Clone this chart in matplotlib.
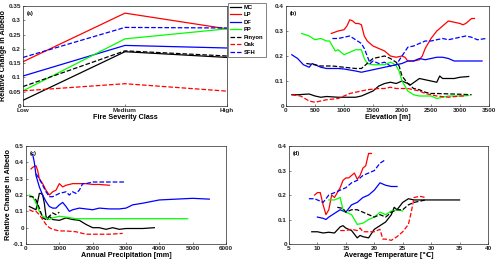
import numpy as np
import matplotlib
matplotlib.use('Agg')
import matplotlib.pyplot as plt

plt.rcParams['font.family'] = ['Liberation Sans', 'DejaVu Sans']
plt.rcParams['font.weight'] = 'bold'

nomes = ['MC', 'LP', 'DF', 'PP', 'Pinyon', 'Oak', 'SFH']
cores = ['k', 'r', 'b', 'lime', 'k', 'r', 'b']
estilos = ['-', '-', '-', '-', '--', '--', '--']

# (a) classe de severidade
classes = ['Low', 'Medium', 'High']
sev = {
    'MC': [0.02, 0.19, 0.17],
    'LP': [0.155, 0.325, 0.27],
    'DF': [0.105, 0.212, 0.203],
    'PP': [0.053, 0.235, 0.27],
    'Pinyon': [0.068, 0.193, 0.175],
    'Oak': [0.053, 0.078, 0.052],
    'SFH': [0.17, 0.275, 0.273],
}

# (b) elevacao
elev_mc_x = [100, 200, 400, 500, 600, 700, 900, 1000, 1200, 1300, 1400, 1500, 1600, 1700, 1800, 1900, 2000, 2100, 2150, 2300, 2400, 2500, 2600, 2650, 2700, 2900, 3000, 3150]
elev_mc_y = [0.045, 0.045, 0.048, 0.04, 0.035, 0.038, 0.035, 0.035, 0.035, 0.04, 0.05, 0.06, 0.08, 0.09, 0.095, 0.09, 0.1, 0.09, 0.085, 0.11, 0.105, 0.1, 0.095, 0.12, 0.11, 0.11, 0.115, 0.118]
elev_lp_x = [780, 900, 1000, 1050, 1100, 1150, 1200, 1250, 1300, 1350, 1400, 1500, 1600, 1700, 1800, 1900, 2000, 2050, 2100, 2200, 2300, 2350, 2400, 2500, 2600, 2700, 2800, 2900, 3000, 3050, 3100, 3200, 3250]
elev_lp_y = [0.29, 0.30, 0.305, 0.32, 0.345, 0.34, 0.33, 0.33, 0.325, 0.28, 0.26, 0.24, 0.23, 0.22, 0.20, 0.195, 0.2, 0.195, 0.18, 0.18, 0.185, 0.2, 0.23, 0.27, 0.30, 0.32, 0.34, 0.335, 0.33, 0.325, 0.33, 0.35, 0.35]
elev_df_x = [100, 200, 300, 400, 450, 500, 600, 700, 900, 1000, 1200, 1300, 1400, 1500, 1600, 1700, 1800, 1900, 2000, 2100, 2200, 2300, 2400, 2500, 2600, 2700, 2800, 2900, 3000, 3200, 3380]
elev_df_y = [0.205, 0.19, 0.165, 0.155, 0.17, 0.165, 0.155, 0.15, 0.15, 0.148, 0.14, 0.135, 0.14, 0.145, 0.15, 0.155, 0.16, 0.165, 0.17, 0.18, 0.18, 0.19, 0.185, 0.19, 0.195, 0.195, 0.19, 0.18, 0.18, 0.18, 0.18]
elev_pp_x = [270, 400, 500, 600, 700, 750, 800, 850, 900, 1000, 1100, 1200, 1300, 1350, 1400, 1500, 1600, 1700, 1800, 1850, 1900, 1950, 2000, 2100, 2200, 2300, 2400, 2500, 2600, 2700, 2800, 3000, 3150]
elev_pp_y = [0.29, 0.28, 0.265, 0.27, 0.26, 0.26, 0.24, 0.22, 0.225, 0.205, 0.215, 0.225, 0.225, 0.19, 0.17, 0.165, 0.165, 0.165, 0.175, 0.17, 0.16, 0.14, 0.1, 0.06, 0.045, 0.04, 0.04, 0.04, 0.03, 0.035, 0.04, 0.04, 0.042]
elev_pin_x = [350, 500, 600, 700, 800, 1000, 1200, 1300, 1400, 1500, 1600, 1700, 1800, 1900, 1950, 2000, 2100, 2200, 2300, 2400, 2500, 2600, 3000, 3200]
elev_pin_y = [0.17, 0.165, 0.16, 0.16, 0.16, 0.155, 0.15, 0.15, 0.17, 0.19, 0.195, 0.2, 0.19, 0.175, 0.16, 0.12, 0.09, 0.07, 0.065, 0.055, 0.05, 0.05, 0.047, 0.045]
elev_oak_x = [100, 250, 400, 500, 600, 700, 900, 1000, 1100, 1200, 1300, 1400, 1600, 1700, 1800, 1900, 2100, 2200, 2300, 2400, 2500, 2600, 2800, 3000, 3100]
elev_oak_y = [0.045, 0.04, 0.02, 0.015, 0.02, 0.025, 0.03, 0.04, 0.05, 0.055, 0.06, 0.065, 0.07, 0.07, 0.075, 0.07, 0.07, 0.065, 0.06, 0.05, 0.045, 0.04, 0.035, 0.04, 0.04]
elev_sfh_x = [800, 900, 1000, 1100, 1200, 1300, 1350, 1400, 1450, 1500, 1600, 1700, 1800, 1900, 2000, 2100, 2200, 2300, 2400, 2500, 2700, 2800, 2900, 3000, 3100, 3200, 3300, 3450]
elev_sfh_y = [0.27, 0.27, 0.275, 0.28, 0.265, 0.25, 0.23, 0.2, 0.17, 0.18, 0.17, 0.175, 0.16, 0.165, 0.2, 0.235, 0.24, 0.25, 0.26, 0.26, 0.27, 0.265, 0.27, 0.275, 0.28, 0.275, 0.265, 0.27]

# (c) precipitacao anual
prec_mc_x = [100, 200, 300, 350, 400, 450, 500, 550, 600, 650, 700, 800, 1000, 1200, 1400, 1600, 1800, 2000, 2200, 2400, 2600, 2800, 3000, 3500, 3850]
prec_mc_y = [0.13, 0.12, 0.11, 0.16, 0.21, 0.21, 0.2, 0.15, 0.07, 0.05, 0.07, 0.05, 0.045, 0.06, 0.05, 0.045, 0.02, 0.0, 0.0, -0.01, 0.0, -0.01, -0.005, -0.005, 0.0]
prec_lp_x = [150, 200, 300, 350, 400, 500, 600, 700, 800, 900, 1000, 1100, 1200, 1400, 1600, 1800, 2000, 2200, 2500]
prec_lp_y = [0.36, 0.37, 0.38, 0.35, 0.3, 0.27, 0.23, 0.2, 0.22, 0.23, 0.27, 0.25, 0.26, 0.27, 0.27, 0.27, 0.265, 0.265, 0.26]
prec_df_x = [200, 250, 300, 400, 500, 600, 700, 800, 900, 1000, 1100, 1200, 1300, 1400, 1600, 1800, 2000, 2200, 2500, 2800, 3000, 3200, 3500, 4000, 4500, 5000, 5500]
prec_df_y = [0.45, 0.4, 0.32, 0.25, 0.2, 0.16, 0.13, 0.12, 0.12, 0.14, 0.155, 0.13, 0.1, 0.11, 0.12, 0.115, 0.11, 0.12, 0.115, 0.115, 0.12, 0.14, 0.15, 0.17, 0.175, 0.18, 0.175]
prec_pp_x = [100, 200, 300, 400, 500, 600, 700, 800, 1000, 1200, 1500, 2000, 3000, 4000, 4850]
prec_pp_y = [0.2, 0.19, 0.15, 0.1, 0.07, 0.06, 0.05, 0.06, 0.07, 0.065, 0.055, 0.055, 0.055, 0.055, 0.055]
prec_pin_x = [100, 200, 300, 400, 500, 600, 700, 800, 900, 1000]
prec_pin_y = [0.19, 0.19, 0.17, 0.12, 0.06, 0.05, 0.07, 0.09, 0.08, 0.095]
prec_oak_x = [100, 200, 300, 400, 500, 600, 700, 800, 1000, 1200, 1500, 1800, 2000, 2500, 2900]
prec_oak_y = [0.11, 0.1, 0.1, 0.08, 0.05, 0.02, 0.0, -0.01, -0.02, -0.02, -0.025, -0.04, -0.04, -0.04, -0.035]
prec_sfh_x = [300, 400, 500, 600, 700, 800, 900, 1000, 1200, 1300, 1400, 1500, 1600, 1700, 1800, 2000, 2500, 3000]
prec_sfh_y = [0.33, 0.3, 0.26, 0.22, 0.19, 0.19, 0.2, 0.21, 0.22, 0.2, 0.22, 0.21, 0.23, 0.27, 0.27, 0.28, 0.28, 0.28]

# (d) temperatura media
temp_mc_x = [9, 10, 11, 12, 13, 14, 14.5, 15, 16, 17, 17.5, 18, 19, 20, 21, 22, 23, 23.5, 24, 25, 26, 27, 30, 35]
temp_mc_y = [0.05, 0.05, 0.045, 0.048, 0.045, 0.07, 0.075, 0.065, 0.055, 0.025, 0.035, 0.03, 0.025, 0.06, 0.075, 0.09, 0.12, 0.15, 0.14, 0.17, 0.185, 0.18, 0.18, 0.18]
temp_lp_x = [9.5, 10, 10.5, 11, 11.5, 12, 12.5, 13, 13.5, 14, 14.5, 15, 15.5, 16, 16.5, 17, 17.5, 18, 18.5, 19, 19.5]
temp_lp_y = [0.2, 0.21, 0.21, 0.16, 0.12, 0.14, 0.2, 0.19, 0.21, 0.23, 0.26, 0.27, 0.27, 0.28, 0.29, 0.265, 0.28, 0.31, 0.32, 0.37, 0.37]
temp_df_x = [10, 11, 11.5, 12, 13, 14, 15, 16, 17, 18, 19, 20, 21, 22, 23, 24]
temp_df_y = [0.11, 0.105, 0.1, 0.11, 0.125, 0.14, 0.13, 0.16, 0.17, 0.19, 0.2, 0.22, 0.25, 0.24, 0.235, 0.235]
temp_pp_x = [12, 13, 14, 14.5, 15, 16, 17, 18, 19, 20, 21, 22, 23, 24, 25]
temp_pp_y = [0.18, 0.18, 0.19, 0.14, 0.13, 0.12, 0.08, 0.085, 0.1, 0.11, 0.13, 0.12, 0.135, 0.14, 0.135]
temp_pin_x = [13.5, 14.5, 15, 16, 17, 18, 19, 20, 21, 22, 23, 24, 25, 26, 27, 28, 29]
temp_pin_y = [0.15, 0.145, 0.13, 0.14, 0.14, 0.13, 0.12, 0.11, 0.12, 0.11, 0.13, 0.14, 0.14, 0.16, 0.17, 0.175, 0.18]
temp_oak_x = [14, 15, 16, 17, 17.5, 18, 19, 20, 21, 21.5, 22, 23, 24, 25, 26, 26.5, 27, 28, 29]
temp_oak_y = [0.055, 0.055, 0.06, 0.055, 0.065, 0.05, 0.05, 0.05, 0.06, 0.02, 0.02, 0.015, 0.03, 0.05, 0.08, 0.13, 0.19, 0.195, 0.19]
temp_sfh_x = [8.5, 9.5, 10, 11, 12, 13, 14, 15, 16, 17, 18, 19, 20, 21, 22]
temp_sfh_y = [0.185, 0.185, 0.18, 0.17, 0.2, 0.21, 0.22, 0.23, 0.25, 0.26, 0.28, 0.29, 0.3, 0.33, 0.345]

elev = [(elev_mc_x, elev_mc_y), (elev_lp_x, elev_lp_y), (elev_df_x, elev_df_y), (elev_pp_x, elev_pp_y),
        (elev_pin_x, elev_pin_y), (elev_oak_x, elev_oak_y), (elev_sfh_x, elev_sfh_y)]
prec = [(prec_mc_x, prec_mc_y), (prec_lp_x, prec_lp_y), (prec_df_x, prec_df_y), (prec_pp_x, prec_pp_y),
        (prec_pin_x, prec_pin_y), (prec_oak_x, prec_oak_y), (prec_sfh_x, prec_sfh_y)]
temp = [(temp_mc_x, temp_mc_y), (temp_lp_x, temp_lp_y), (temp_df_x, temp_df_y), (temp_pp_x, temp_pp_y),
        (temp_pin_x, temp_pin_y), (temp_oak_x, temp_oak_y), (temp_sfh_x, temp_sfh_y)]

fs = 4.6
fig = plt.figure(figsize=(5, 2.66), dpi=100)
axa = fig.add_axes([0.046, 0.6015, 0.408, 0.376])
axb = fig.add_axes([0.572, 0.6015, 0.406, 0.376])
axc = fig.add_axes([0.052, 0.0827, 0.400, 0.368])
axd = fig.add_axes([0.578, 0.0827, 0.398, 0.368])


def estilo(ax, letra):
    ax.tick_params(direction='in', length=1.5, width=0.4, labelsize=fs, pad=1.5, colors='#262626')
    for s in ax.spines.values():
        s.set_linewidth(0.5)
        s.set_color('#262626')
    ax.text(0.02, 0.95, letra, transform=ax.transAxes, fontsize=fs - 0.6, fontweight='bold', va='top')


xa = np.arange(len(classes))
for i, n in enumerate(nomes):
    axa.plot(xa, sev[n], color=cores[i], ls=estilos[i], lw=0.9, label=n)
axa.set_xticks(xa)
axa.set_xticklabels(classes)
axa.set_xlim(0, 2)
axa.set_ylim(0, 0.35)
axa.set_yticks(np.arange(0, 0.351, 0.05))
axa.set_yticklabels(['0', '0.05', '0.1', '0.15', '0.2', '0.25', '0.3', '0.35'])
axa.set_xlabel('Fire Severity Class', fontsize=fs + 0.6, fontweight='bold', labelpad=1)
axa.set_ylabel('Relative Change in Albedo', fontsize=fs + 0.6, fontweight='bold', labelpad=1)
estilo(axa, '(a)')

for i, (x, y) in enumerate(elev):
    axb.plot(x, y, color=cores[i], ls=estilos[i], lw=0.9)
axb.set_xlim(0, 3500)
axb.set_ylim(0, 0.4)
axb.set_yticks([0, 0.1, 0.2, 0.3, 0.4])
axb.set_yticklabels(['0', '0.1', '0.2', '0.3', '0.4'])
axb.set_xlabel('Elevation [m]', fontsize=fs + 0.6, fontweight='bold', labelpad=1)
estilo(axb, '(b)')

for i, (x, y) in enumerate(prec):
    axc.plot(x, y, color=cores[i], ls=estilos[i], lw=0.9)
axc.set_xlim(0, 6000)
axc.set_ylim(-0.1, 0.5)
axc.set_yticks([-0.1, 0, 0.1, 0.2, 0.3, 0.4, 0.5])
axc.set_yticklabels(['-0.1', '0', '0.1', '0.2', '0.3', '0.4', '0.5'])
axc.set_xlabel('Annual Precipitation [mm]', fontsize=fs + 0.6, fontweight='bold', labelpad=1)
axc.set_ylabel('Relative Change in Albedo', fontsize=fs + 0.6, fontweight='bold', labelpad=1)
estilo(axc, '(c)')

for i, (x, y) in enumerate(temp):
    axd.plot(x, y, color=cores[i], ls=estilos[i], lw=0.9)
axd.set_xlim(5, 40)
axd.set_ylim(0, 0.4)
axd.set_yticks([0, 0.1, 0.2, 0.3, 0.4])
axd.set_yticklabels(['0', '0.1', '0.2', '0.3', '0.4'])
axd.set_xlabel('Average Temperature [\u2103]', fontsize=fs + 0.6, fontweight='bold', labelpad=1)
estilo(axd, '(d)')

leg = fig.legend(loc='upper left', bbox_to_anchor=(0.456, 0.989), fontsize=fs - 0.4,
                 handlelength=1.9, handletextpad=0.5, labelspacing=0.4, borderpad=0.35,
                 borderaxespad=0, frameon=True, fancybox=False, edgecolor='#262626')
leg.get_frame().set_linewidth(0.5)

fig.savefig('out.png', dpi=100)
